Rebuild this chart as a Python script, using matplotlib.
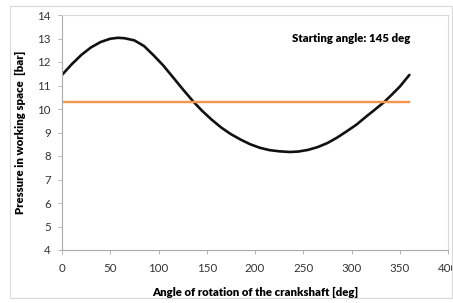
import matplotlib
matplotlib.use("Agg")
import matplotlib.pyplot as plt
from matplotlib.patches import Rectangle

angle = [0, 10, 20, 30, 40, 50, 58, 65, 75, 85, 95, 105, 115, 125, 136, 145,
         155, 165, 175, 185, 195, 205, 215, 225, 236, 245, 255, 265, 275, 285,
         295, 305, 315, 325, 334, 342, 350, 360]
pressure = [11.45, 11.9, 12.3, 12.62, 12.85, 12.99, 13.03, 13.01, 12.92, 12.68,
            12.28, 11.85, 11.35, 10.85, 10.32, 9.93, 9.55, 9.21, 8.93, 8.7, 8.5,
            8.35, 8.25, 8.2, 8.17, 8.19, 8.26, 8.38, 8.55, 8.78, 9.05, 9.33,
            9.67, 10.0, 10.3, 10.62, 10.95, 11.45]
mean_angle = [0, 360]
mean_pressure = [10.3, 10.3]
xticks = [0, 50, 100, 150, 200, 250, 300, 350, 400]
yticks = [4, 5, 6, 7, 8, 9, 10, 11, 12, 13, 14]

plt.rcParams['font.family'] = ['Lato', 'DejaVu Sans']

fig = plt.figure(figsize=(4.53, 3.03), dpi=100)
W, H = 453, 303
ax = fig.add_axes([62 / W, 1 - 250 / H, (448 - 62) / W, (250 - 15) / H])

# outer chart border
fig.patches.append(Rectangle((10 / W, 1 - 298 / H), (452 - 10) / W, (298 - 6) / H,
                             transform=fig.transFigure, fill=False,
                             edgecolor='#d9d9d9', lw=0.8))

ax.plot(angle, pressure, color='#111111', lw=1.9, solid_capstyle='round',
        solid_joinstyle='round')
ax.plot(mean_angle, mean_pressure, color='#f79646', lw=1.7)

ax.set_xlim(0, 400)
ax.set_ylim(4, 14)
ax.set_xticks(xticks)
ax.set_yticks(yticks)
ax.tick_params(labelsize=8.3, colors='#333333', length=3, width=0.6,
               color='#aaaaaa')
ax.tick_params(axis='x', pad=6)
ax.tick_params(axis='y', pad=5)
for s in ['left', 'bottom']:
    ax.spines[s].set_color('#aaaaaa')
    ax.spines[s].set_linewidth(0.8)
for s in ['top', 'right']:
    ax.spines[s].set_color('#d9d9d9')
    ax.spines[s].set_linewidth(0.8)

ax.set_xlabel('Angle of rotation of the crankshaft [deg]', fontsize=8.2,
              fontweight='heavy', labelpad=10)
ax.set_ylabel('Pressure in working space  [bar]', fontsize=8.2,
              fontweight='heavy', labelpad=8)
ax.text(361, 13.0, 'Starting angle: 145 deg', fontsize=8.2, fontweight='heavy',
        ha='right', va='center')

fig.savefig('out.png', dpi=100)
